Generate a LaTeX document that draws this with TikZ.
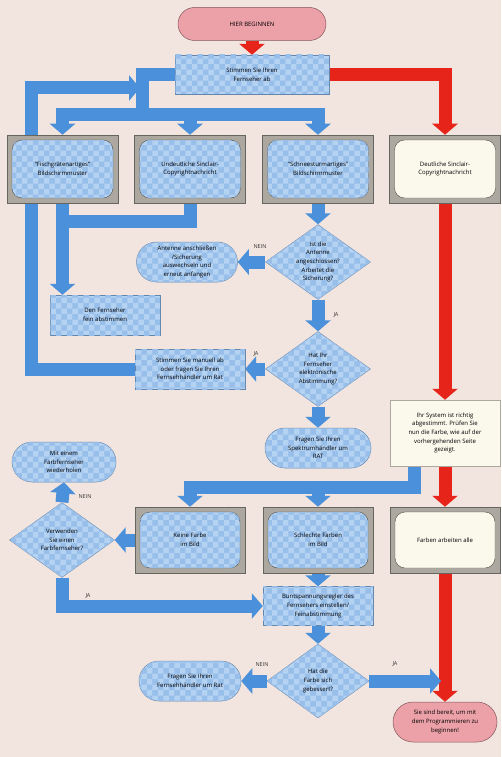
\documentclass[tikz,border=0pt]{standalone}
\usepackage{fontspec}
\setmainfont{Open Sans}
\usetikzlibrary{arrows.meta,shapes.geometric,shapes.misc,calc,patterns}

\definecolor{bgpaper}{RGB}{242,228,222}
\definecolor{flowblue}{RGB}{74,144,218}
\definecolor{flowred}{RGB}{230,36,26}
\definecolor{screenlight}{RGB}{180,210,242}
\definecolor{screendark}{RGB}{152,190,234}
\definecolor{screenedge}{RGB}{100,134,172}
\definecolor{cream}{RGB}{251,248,236}
\definecolor{tvgray}{RGB}{172,168,160}
\definecolor{startpink}{RGB}{236,160,168}

\pgfdeclarelayer{back}
\pgfsetlayers{back,main}

\newcommand{\chartfont}{\fontsize{6}{8.6}\selectfont}

\tikzset{
  every node/.style={font=\chartfont, text=black, align=center},
  screenfill/.style={fill=screenlight, postaction={pattern=checkerboard, pattern color=screendark}},
  creamfill/.style={fill=cream},
  flowline/.style={line width=13pt, -{Triangle[length=11pt,width=25pt]}},
  blueflow/.style={flowline, draw=flowblue},
  redflow/.style={flowline, draw=flowred},
  bluebar/.style={line width=13pt, draw=flowblue},
  actbox/.style={rectangle, screenfill, draw=screenedge, line width=0.4pt,
    minimum width=110pt, minimum height=40pt, inner sep=2pt},
  infobox/.style={rectangle, creamfill, draw=tvgray, line width=0.5pt,
    minimum width=110pt, minimum height=66pt, inner sep=2pt},
  pill/.style={rounded rectangle, screenfill, draw=screenedge, line width=0.5pt,
    minimum width=106pt, minimum height=40pt, inner sep=2pt},
  startpill/.style={rounded rectangle, fill=startpink, draw=startpink!55!black,
    line width=0.5pt, minimum width=152pt, minimum height=33pt, inner sep=2pt},
  decision/.style={diamond, screenfill, draw=screenedge, line width=0.4pt,
    aspect=1.4, minimum width=105pt, minimum height=75pt, inner sep=-3pt},
  tvbox/.style={rectangle, fill=tvgray, draw=tvgray!60!black, line width=0.5pt,
    minimum width=111pt, minimum height=68pt, inner sep=2pt,
    path picture={\path[#1, draw=tvgray!45!black, line width=0.4pt, rounded corners=10pt]
      ([shift={(5pt,5pt)}]path picture bounding box.south west) rectangle
      ([shift={(-5pt,-5pt)}]path picture bounding box.north east);}},
  answer/.style={font=\fontsize{5.5}{6}\selectfont, text=black!80}
}

\begin{document}
\begin{tikzpicture}[x=1pt,y=-1pt]
  \useasboundingbox (0,0) rectangle (501,757);

  \node[startpill] (start) at (252,24) {HIER BEGINNEN};
  \node[actbox, minimum width=154pt, minimum height=39pt] (tune) at (252,74.5) {Stimmen Sie Ihren\\Fernseher ab};

  % first screens
  \node[tvbox=screenfill] (fish) at (62.5,169) {``Fischgrätenartiges''\\Bildschirmmuster};
  \node[tvbox=screenfill] (unclear) at (190,169) {Undeutliche Sinclair-\\Copyrightnachricht};
  \node[tvbox=screenfill] (snow) at (318,169) {``Schneesturmartiges''\\Bildschirmmuster};
  \node[tvbox=creamfill] (clear) at (445,169) {Deutliche Sinclair-\\Copyrightnachricht};

  \node[decision] (aerial) at (318,262) {Ist die\\Antenne\\angeschlossen?\\Arbeitet die\\Sicherung?};
  \node[pill, minimum width=105pt] (fixaerial) at (187,262) {Antenne anschließen\\/Sicherung\\auswechseln und\\erneut anfangen};
  \node[actbox] (finetune) at (105,315) {Den Fernseher\\fein abstimmen};
  \node[decision] (elect) at (318,369) {Hat Ihr\\Fernseher\\elektronische\\Abstimmung?};
  \node[actbox] (manual) at (190,369) {Stimmen Sie manuell ab\\oder fragen Sie Ihren\\Fernsehhändler um Rat};
  \node[pill, minimum width=110pt] (askspec) at (318,448) {Fragen Sie Ihren\\Spektrumhändler um\\RAT};

  % colour check
  \node[infobox] (ok) at (445,433) {Ihr System ist richtig\\abgestimmt. Prüfen Sie\\nun die Farbe, wie auf der\\vorhergehenden Seite\\gezeigt.};
  \node[tvbox=screenfill, minimum width=110pt, minimum height=66pt] (nocol) at (190,540) {Keine Farbe\\im Bild};
  \node[tvbox=screenfill, minimum width=110pt, minimum height=66pt] (badcol) at (318,540) {Schlechte Farben\\im Bild};
  \node[tvbox=creamfill, minimum width=110pt, minimum height=66pt] (allcol) at (445,540) {Farben arbeiten alle};
  \node[decision] (coltv) at (62,540) {Verwenden\\Sie einen\\Farbfernseher?};
  \node[pill, minimum width=108pt] (retry) at (64,462) {Mit einem\\Farbfernseher\\wiederholen};
  \node[actbox, minimum height=39pt] (adjust) at (318,606) {Buntspannungsregler des\\Fernsehers einstellen/\\Feinabstimmung};
  \node[decision, minimum width=102pt, minimum height=74pt] (better) at (318,681) {Hat die\\Farbe sich\\gebessert?};
  \node[pill] (askdealer) at (190,681) {Fragen Sie Ihren\\Fernsehhändler um Rat};
  \node[startpill, minimum width=108pt, minimum height=40pt] (ready) at (445,722) {Sie sind bereit, um mit\\dem Programmieren zu\\beginnen!};

  \node[answer] (no1) at (260,247) {NEIN};
  \node[answer] (yes1) at (336,315) {JA};
  \node[answer] (yes2) at (256,354) {JA};
  \node[answer] (no2) at (85,497) {NEIN};
  \node[answer] (yes3) at (88,596) {JA};
  \node[answer] (no3) at (262,665) {NEIN};
  \node[answer] (yes4) at (395,664) {JA};

  \begin{pgfonlayer}{back}
    \fill[bgpaper] (0,0) rectangle (501,757);
    \coordinate (split) at (142,115);
    \coordinate (loopcorner) at (31,88);
    \coordinate (loopin) at (140,88);
    \coordinate (merge) at (63,221);
    \coordinate (colsplit) at (414,487);
    \coordinate (redjoin) at (441,681);

    % red path
    \draw[redflow] (start.south) -- (tune.north);
    \draw[redflow] (tune.east) -| (clear.north);
    \draw[redflow] (clear.south) -- (ok.north);
    \draw[redflow] (ok.south) -- (allcol.north);
    \draw[redflow] (allcol.south) -- (ready.north);

    % blue paths
    \draw[bluebar] (tune.west) -| (split);
    \draw[blueflow] (split) -| (fish.north);
    \draw[blueflow] (split) -| (snow.north);
    \draw[blueflow] (unclear.north |- split) -- (unclear.north);
    \draw[blueflow] (manual.west) -| (loopcorner) -- (loopin);
    \draw[blueflow] (fish.south) -- (fish.south |- finetune.north);
    \draw[bluebar] (unclear.south) |- (merge);
    \draw[blueflow] (snow.south) -- (aerial.north);
    \draw[blueflow] (aerial.west) -- (fixaerial.east);
    \draw[blueflow] (aerial.south) -- (elect.north);
    \draw[blueflow] (elect.west) -- (manual.east);
    \draw[blueflow] (elect.south) -- (askspec.north);
    \draw[blueflow] (ok.south -| colsplit) -- (colsplit) -| (nocol.north);
    \draw[blueflow] (badcol.north |- colsplit) -- (badcol.north);
    \draw[blueflow] (nocol.west) -- (coltv.east);
    \draw[blueflow] (coltv.north) -- (retry.south);
    \draw[blueflow] (coltv.south) |- (adjust.west);
    \draw[blueflow] (badcol.south) -- (adjust.north);
    \draw[blueflow] (adjust.south) -- (better.north);
    \draw[blueflow] (better.west) -- (askdealer.east);
    \draw[blueflow] (better.east) -- (redjoin);
  \end{pgfonlayer}
\end{tikzpicture}
\end{document}
